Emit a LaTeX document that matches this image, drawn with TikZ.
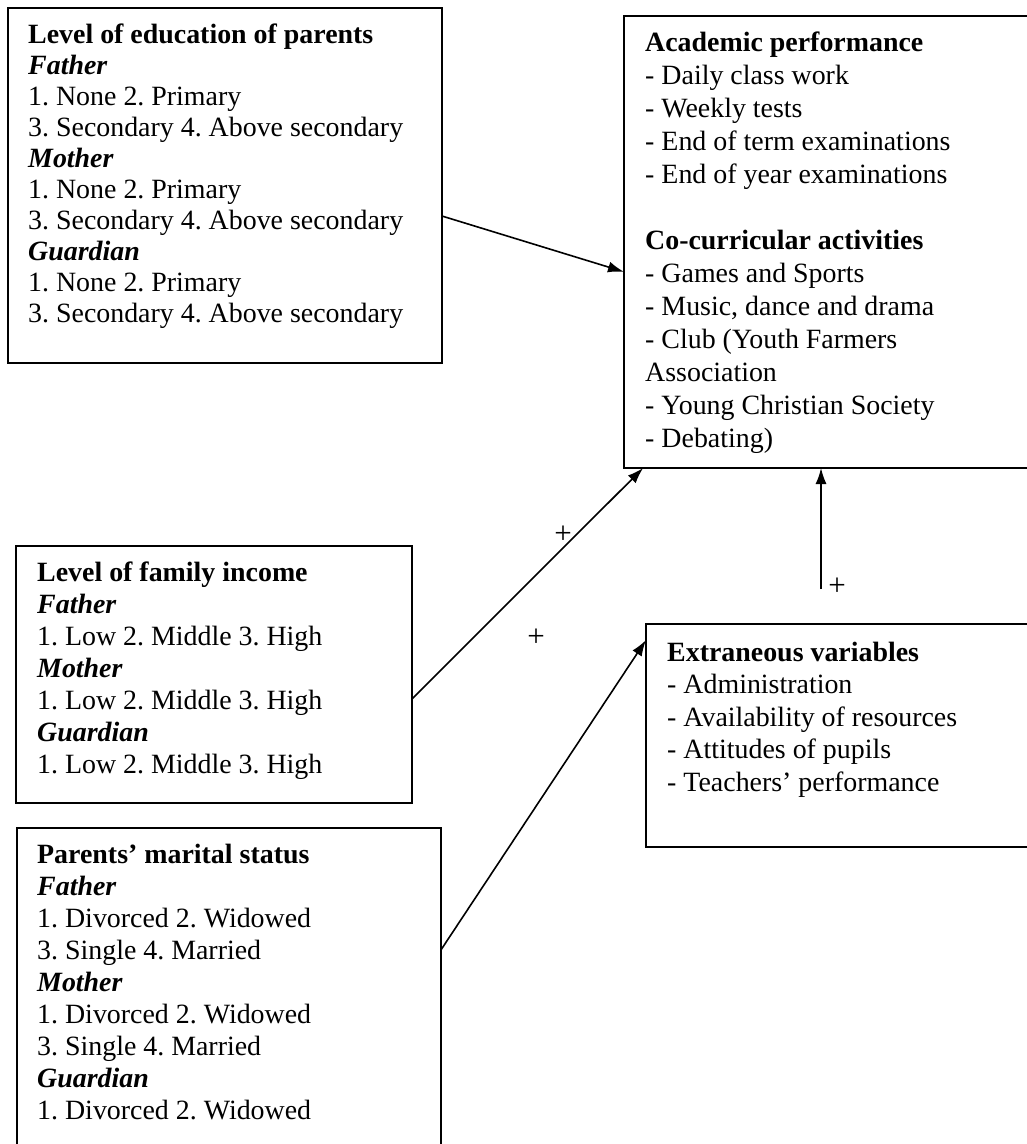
\documentclass[tikz,border=0pt]{standalone}
\usepackage{fontspec}
\setmainfont{Liberation Serif}
\usetikzlibrary{calc,arrows.meta}
\frenchspacing
\begin{document}
\begin{tikzpicture}[x=1pt,y=-1pt,
  box/.style={draw,line width=1.8pt,inner sep=0pt,outer sep=0pt},
  txt/.style={anchor=north west,align=left,inner sep=0pt,font=\fontsize{27.9}{#1}\selectfont\frenchspacing},
  conn/.style={line width=1.6pt,-{Latex[length=16pt,width=11pt]}},
  plus/.style={font=\fontsize{31}{31}\selectfont,inner sep=0pt}]
\fill[white] (0,0) rectangle (1027,1144);
\useasboundingbox (0,0) rectangle (1027,1144);
\clip (0,0) rectangle (1027,1144);

% boxes
\node[box,minimum width=434pt,minimum height=355pt] (b1) at (225,185.5) {};
\node[box,minimum width=416pt,minimum height=452pt] (b2) at (832,242) {};
\node[box,minimum width=396pt,minimum height=257pt] (b3) at (214,674.5) {};
\node[box,minimum width=424pt,minimum height=332pt] (b4) at (229,994) {};
\node[box,minimum width=394pt,minimum height=223pt] (b5) at (843,735.5) {};

% texts
\node[txt=31] (t1) at (28,23) {\rule{0pt}{20pt}\textbf{Level of education of parents}\\
\textbf{\textit{Father}}\\
1. None 2. Primary\\
3. Secondary 4. Above secondary\\
\textbf{\textit{Mother}}\\
1. None 2. Primary\\
3. Secondary 4. Above secondary\\
\textbf{\textit{Guardian}}\\
1. None 2. Primary\\
3. Secondary 4. Above secondary};

\node[txt=33] (t2) at (645,31) {\rule{0pt}{20pt}\textbf{Academic performance}\\
- Daily class work\\
- Weekly tests\\
- End of term examinations\\
- End of year examinations\\[33pt]
\textbf{Co-curricular activities}\\
- Games and Sports\\
- Music, dance and drama\\
- Club (Youth Farmers\\
Association\\
- Young Christian Society\\
- Debating)};

\node[txt=32] (t3) at (37,561) {\rule{0pt}{20pt}\textbf{Level of family income}\\
\textbf{\textit{Father}}\\
1. Low 2. Middle 3. High\\
\textbf{\textit{Mother}}\\
1. Low 2. Middle 3. High\\
\textbf{\textit{Guardian}}\\
1. Low 2. Middle 3. High};

\node[txt=32] (t4) at (37,843) {\rule{0pt}{20pt}\textbf{Parents’ marital status}\\
\textbf{\textit{Father}}\\
1. Divorced 2. Widowed\\
3. Single 4. Married\\
\textbf{\textit{Mother}}\\
1. Divorced 2. Widowed\\
3. Single 4. Married\\
\textbf{\textit{Guardian}}\\
1. Divorced 2. Widowed};

\node[txt=32.5] (t5) at (667,641) {\rule{0pt}{20pt}\textbf{Extraneous variables}\\
- Administration\\
- Availability of resources\\
- Attitudes of pupils\\
- Teachers’ performance};

% connectors
\draw[conn] ($(b1.north east)!0.586!(b1.south east)$) -- ($(b2.north west)!0.566!(b2.south west)$);
\draw[conn] ($(b3.north east)!0.595!(b3.south east)$) -- ($(b2.south west)!0.046!(b2.south east)$);
\draw[conn] ($(b4.north east)!0.367!(b4.south east)$) -- ($(b5.north west)!0.072!(b5.south west)$);
\coordinate (b2bot) at ($(b2.south west)!0.4736!(b2.south east)$);
\coordinate (a4s) at ([yshift=-121pt]b2bot);
\draw[conn] (a4s) -- (b2bot);

% signs
\node[plus] (p1) at (563,535) {+};
\node[plus] (p2) at (536,638) {+};
\node[plus] (p3) at (837,587) {+};
\end{tikzpicture}
\end{document}
